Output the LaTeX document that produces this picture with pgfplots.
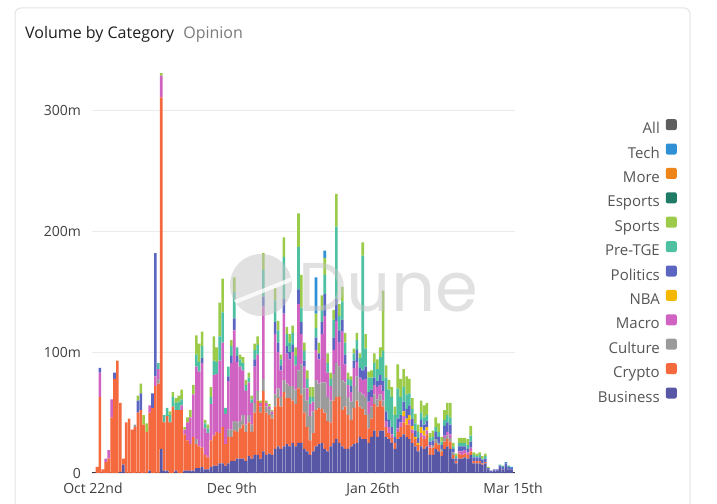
\documentclass[border=0pt]{standalone}
\usepackage{fontspec}
\setmainfont{Open Sans}
\newfontfamily\dunefont{Poppins}
\usepackage{pgfplots}
\usepackage{pgfplotstable}
\pgfplotsset{compat=1.18}
\definecolor{cBus}{HTML}{5757A6}
\definecolor{cCry}{HTML}{F4693E}
\definecolor{cCul}{HTML}{9B9B9B}
\definecolor{cMac}{HTML}{D062C2}
\definecolor{cNBA}{HTML}{F5B700}
\definecolor{cPol}{HTML}{5B66C2}
\definecolor{cPre}{HTML}{4DC1A1}
\definecolor{cSpo}{HTML}{9BCB48}
\definecolor{cEsp}{HTML}{1F7A66}
\definecolor{cMor}{HTML}{EE8518}
\definecolor{cTec}{HTML}{3090D6}
\definecolor{cAll}{HTML}{5E5E5E}
\definecolor{gridc}{HTML}{EBEBEB}
\definecolor{axc}{HTML}{3A3A3A}
\definecolor{tickc}{HTML}{404040}
\definecolor{legc}{HTML}{555555}
\definecolor{titc}{HTML}{1F1F1F}
\definecolor{subc}{HTML}{7A7A7A}
\definecolor{cardc}{HTML}{E4E4E4}
\definecolor{wm}{HTML}{C4C4C4}
\pgfplotstableread{
i b c g m n p t s h
0 0 5 0 0 0 0 0 0 0
1 0 63 0 20 0 4 0 0 0
2 0 3 0 0 0 0 0 0 0
3 0 9 0 3 0 0 0 0 0
4 0 12 0 7 0 0 0 0 0
5 0 46 0 15 0 0 0 0 0
6 0 78 0 0 0 5 0 0 0
7 0 93 0 0 0 0 0 0 0
8 1 57 0 0 0 0 0 0 0
9 7 5 0 0 0 0 0 0 0
10 0 42 0 0 0 0 0 0 0
11 0 45 0 0 0 0 0 0 0
12 0 36 0 0 0 0 0 0 0
13 0 38 2 0 0 0 0 0 0
14 0 50 0 0 0 10 0 4 0
15 0 52 0 0 0 14 0 8 0
16 0 40 0 0 0 0 0 8 0
17 0 34 0 0 0 0 0 7 0
18 2 48 0 6 0 0 0 0 0
19 0 54 0 0 0 12 0 0 0
20 0 72 0 8 0 102 0 0 0
21 0 74 4 8 0 0 5 0 0
22 20 291 0 18 0 0 0 2 0
23 2 40 0 0 0 0 6 0 0
24 2 45 0 0 0 0 7 0 0
25 0 42 0 0 0 0 6 3 0
26 0 55 0 0 0 0 8 4 0
27 2 50 0 0 0 0 6 4 0
28 0 52 0 0 0 0 7 5 0
29 0 52 0 4 0 0 5 8 0
30 2 30 0 4 0 0 0 2 0
31 2 25 0 15 0 0 0 4 0
32 2 22 0 22 0 0 0 6 0
33 2 28 0 35 0 0 0 8 0
34 4 20 4 60 0 0 10 16 0
35 4 18 0 62 0 0 8 15 0
36 5 16 0 70 0 4 10 12 0
37 3 12 0 22 0 0 4 3 0
38 3 10 0 20 0 0 4 3 0
39 5 22 0 30 0 0 6 8 0
40 6 25 0 50 0 0 12 20 0
41 6 28 0 48 0 0 10 12 0
42 8 25 0 60 0 0 20 28 0
43 8 30 0 70 0 0 25 28 0
44 6 18 0 25 0 0 5 0 0
45 8 22 6 40 0 4 8 0 0
46 10 20 6 55 0 6 8 5 0
47 10 25 8 75 0 10 22 12 0
48 12 22 8 50 0 5 7 0 0
49 12 25 6 45 0 0 6 4 0
50 12 28 8 37 0 0 6 5 0
51 10 24 6 28 0 0 5 4 0
52 14 28 6 27 0 0 4 4 0
53 12 22 6 18 0 0 3 3 0
54 15 35 8 30 0 6 8 5 0
55 15 45 8 30 0 0 8 7 0
56 12 38 5 3 0 0 0 2 0
57 18 50 10 60 0 8 22 14 0
58 15 35 5 3 0 0 0 2 0
59 16 32 5 2 0 0 0 2 0
60 15 30 4 2 0 0 0 1 0
61 20 35 10 50 0 10 18 10 0
62 22 40 8 30 0 8 10 8 0
63 20 35 8 22 0 4 5 4 0
64 22 45 10 55 0 12 35 16 0
65 24 38 12 25 0 6 10 6 0
66 22 40 10 22 0 6 8 7 0
67 25 35 12 28 0 6 10 6 0
68 22 35 12 20 0 0 8 7 0
69 25 45 15 55 0 12 35 28 0
70 25 40 25 25 0 10 12 27 0
71 20 30 20 18 0 5 8 7 0
72 18 20 22 10 0 0 8 7 0
73 15 12 20 10 0 0 6 8 0
74 18 15 18 8 0 0 4 8 0
75 22 30 25 25 0 10 8 12 30
76 24 30 20 20 0 5 0 9 0
77 25 28 22 40 0 10 10 12 0
78 20 30 25 55 0 18 16 14 6
79 18 25 20 20 0 0 8 8 0
80 22 20 18 12 0 0 6 5 0
81 25 35 22 20 0 10 15 8 0
82 28 35 28 35 0 18 60 27 0
83 25 38 25 20 0 10 12 10 0
84 22 30 25 40 0 10 15 12 0
85 20 35 20 15 0 8 10 8 0
86 20 28 15 10 0 0 5 5 0
87 22 22 15 8 0 5 5 3 0
88 24 30 18 15 0 6 6 4 0
89 25 35 20 12 0 10 8 6 0
90 30 25 12 12 0 8 8 4 0
91 28 25 12 12 0 8 95 11 0
92 28 20 15 15 0 10 15 12 0
93 25 12 12 10 0 8 12 5 0
94 30 15 10 8 0 6 10 6 0
95 35 22 8 8 0 6 12 8 0
96 30 25 6 10 0 5 10 8 0
97 35 25 5 8 0 8 15 8 0
98 35 20 5 8 0 8 25 50 0
99 30 8 0 5 0 8 28 10 0
100 28 5 0 5 0 6 25 8 0
101 25 4 0 3 0 6 25 8 0
102 20 5 0 0 0 5 18 7 0
103 28 6 0 3 0 8 25 20 0
104 30 8 0 4 0 6 15 15 0
105 32 10 0 5 4 8 12 15 0
106 30 10 0 0 5 8 12 15 0
107 28 12 0 4 4 8 10 12 0
108 25 8 0 3 3 6 8 9 0
109 22 6 0 0 2 5 6 8 0
110 18 5 0 0 2 4 5 6 0
111 22 8 0 3 5 6 6 10 0
112 20 8 0 3 4 5 6 10 0
113 22 10 0 3 3 5 5 10 0
114 15 6 0 2 0 3 3 4 0
115 15 6 2 0 0 4 3 5 0
116 20 5 3 0 0 6 4 8 0
117 18 5 2 0 0 5 4 7 0
118 14 4 2 0 0 3 3 4 0
119 20 6 3 2 0 8 5 8 0
120 22 6 3 3 0 8 6 10 0
121 20 6 3 3 0 8 6 12 0
122 12 3 2 0 0 3 2 3 0
123 8 2 0 0 0 2 2 2 0
124 12 4 0 2 0 4 3 4 0
125 12 3 0 3 0 4 3 4 0
126 13 3 0 3 0 3 3 4 0
127 12 3 0 2 0 3 3 5 0
128 15 3 0 3 0 5 5 8 0
129 8 2 0 0 0 3 2 2 0
130 8 2 0 0 0 3 1 2 0
131 8 2 0 0 0 3 2 2 0
132 7 1 0 0 0 3 1 2 0
133 8 1 0 0 0 3 2 2 0
134 3 0 0 0 0 1 0 1 0
135 1 0 0 0 0 1 0 0 0
136 2 0 0 0 0 1 0 0 0
137 2 0 0 0 0 1 0 0 0
138 4 0 0 0 0 2 1 0 0
139 3 0 0 0 0 2 1 0 0
140 5 0 0 0 0 3 0 0 1
141 3 0 0 0 0 2 1 0 0
142 3 0 0 0 0 1 0 0 1
}\data
\newcommand\tickfont{\fontsize{14bp}{16bp}\selectfont}
\newcommand\legfont{\fontsize{15bp}{16bp}\selectfont}
\begin{document}
\begin{tikzpicture}[x=1bp,y=1bp]
\useasboundingbox (0,0) rectangle (717,504);
\fill[white] (0,0) rectangle (717,504);
\draw[cardc, line width=1bp, rounded corners=6bp] (15,-20) rectangle (690,496);
\node[anchor=base west, inner sep=0pt, font=\fontsize{16bp}{19bp}\selectfont] at (25,465.7)
  {\textcolor{titc}{Volume by Category}\hspace{9bp}\textcolor{subc}{Opinion}};
\begin{axis}[
  at={(92bp,31bp)}, anchor=south west,
  scale only axis, width=423bp, height=410.7bp,
  xmin=-1.71, xmax=143.15, ymin=0, ymax=340,
  ybar stacked, bar width=2.55bp,
  axis x line*=bottom, axis y line*=left,
  x axis line style={draw=axc, line width=1bp, -},
  y axis line style={draw=none},
  tick style={draw=none},
  ymajorgrids, major grid style={draw=gridc, line width=0.8bp},
  ytick={0,100,200,300}, yticklabels={0,100m,200m,300m},
  xtick={-1.37,46.2,94.5,142.5},
  xticklabels={Oct 22nd,Dec 9th,Jan 26th,Mar 15th},
  ticklabel style={font=\tickfont, text=tickc},
  yticklabel style={inner sep=0pt, xshift=-11bp},
  xticklabel style={inner sep=0pt, anchor=north, yshift=-10bp},
  legend style={draw=none, fill=none, at={(1.39,0.867)}, anchor=north east,
    font=\legfont, text=legc, row sep=6.9bp, column sep=6bp,
    nodes={inner sep=0pt, text height=11bp, text depth=3bp}},
  legend cell align=right,
  legend plot pos=right,
  reverse legend,
  legend image code/.code={\fill[#1, rounded corners=2bp] (0bp,-0.5bp) rectangle (11bp,10.5bp);},
]
\addplot[fill=cBus, draw=none] table[x=i, y=b] {\data}; \addlegendentry{Business}
\addplot[fill=cCry, draw=none] table[x=i, y=c] {\data}; \addlegendentry{Crypto}
\addplot[fill=cCul, draw=none] table[x=i, y=g] {\data}; \addlegendentry{Culture}
\addplot[fill=cMac, draw=none] table[x=i, y=m] {\data}; \addlegendentry{Macro}
\addplot[fill=cNBA, draw=none] table[x=i, y=n] {\data}; \addlegendentry{NBA}
\addplot[fill=cPol, draw=none] table[x=i, y=p] {\data}; \addlegendentry{Politics}
\addplot[fill=cPre, draw=none] table[x=i, y=t] {\data}; \addlegendentry{Pre-TGE}
\addplot[fill=cSpo, draw=none] table[x=i, y=s] {\data}; \addlegendentry{Sports}
\addlegendimage{fill=cEsp, draw=none} \addlegendentry{Esports}
\addlegendimage{fill=cMor, draw=none} \addlegendentry{More}
\addplot[fill=cTec, draw=none] table[x=i, y=h] {\data}; \addlegendentry{Tech}
\addlegendimage{fill=cAll, draw=none} \addlegendentry{All}
\end{axis}
% Dune watermark
\begin{scope}
\clip (261,219) circle (31);
\fill[wm, opacity=0.5] (261,219) circle (31);
\draw[white, opacity=0.8, line width=4bp] (225,198) -- (300,228);
\end{scope}
\node[anchor=base west, inner sep=0pt, text=wm, opacity=0.5, font=\dunefont\fontsize{69bp}{70bp}\selectfont] at (298,192) {Dune};
\end{tikzpicture}
\end{document}
